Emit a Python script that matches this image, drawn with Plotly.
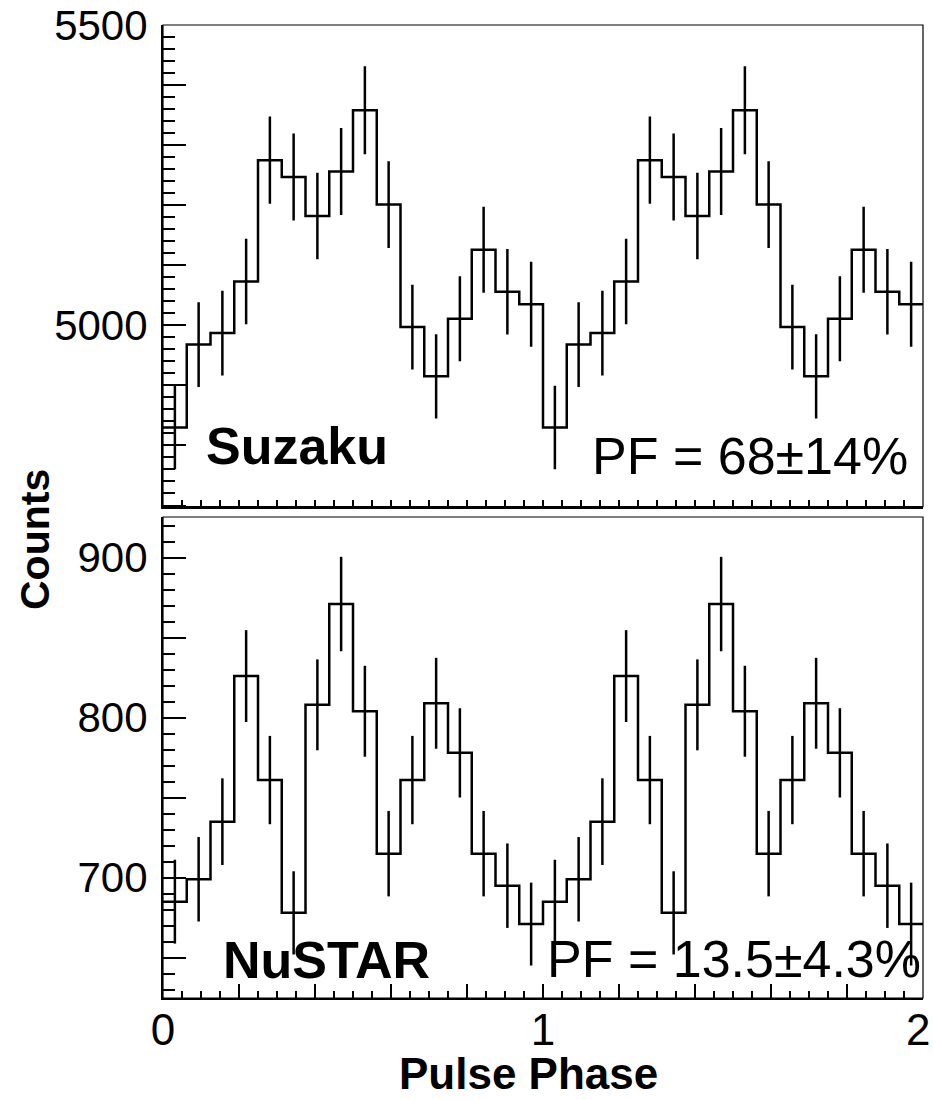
import plotly.graph_objects as go

# ---------------- data ----------------
suzaku_counts = [4830, 4968, 4987, 5073, 5275, 5247, 5182, 5256,
                 5358, 5201, 4997, 4915, 5011, 5126, 5056, 5035,
                 4830, 4968, 4987, 5073, 5275, 5247, 5182, 5256,
                 5358, 5201, 4997, 4915, 5011, 5126, 5056, 5035]
suzaku_err = [69.5, 70.5, 70.6, 71.2, 72.6, 72.4, 72.0, 72.5,
              73.2, 72.1, 70.7, 70.1, 70.8, 71.6, 71.1, 70.9,
              69.5, 70.5, 70.6, 71.2, 72.6, 72.4, 72.0, 72.5,
              73.2, 72.1, 70.7, 70.1, 70.8, 71.6, 71.1, 70.9]
nustar_counts = [685, 699, 735, 826, 761, 678, 808, 871,
                 804, 715, 761, 809, 778, 715, 695, 671,
                 685, 699, 735, 826, 761, 678, 808, 871,
                 804, 715, 761, 809, 778, 715, 695, 671]
nustar_err = [26.2, 26.4, 27.1, 28.7, 27.6, 26.0, 28.4, 29.5,
              28.4, 26.7, 27.6, 28.4, 27.9, 26.7, 26.4, 25.9,
              26.2, 26.4, 27.1, 28.7, 27.6, 26.0, 28.4, 29.5,
              28.4, 26.7, 27.6, 28.4, 27.9, 26.7, 26.4, 25.9]
phase_min, phase_max = 0.0, 2.0
x_tick_labels = ["0", "1", "2"]
suzaku_tick_labels = ["5000", "5500"]
nustar_tick_labels = ["700", "800", "900"]
suzaku_label = "Suzaku"
nustar_label = "NuSTAR"
suzaku_pf = "PF = 68±14%"
nustar_pf = "PF = 13.5±4.3%"

# ---------------- derived bin geometry ----------------
n_bins = len(suzaku_counts)
bw = (phase_max - phase_min) / n_bins
edges = [phase_min + i * bw for i in range(n_bins + 1)]
centers = [phase_min + (i + 0.5) * bw for i in range(n_bins)]

W, H = 933, 1099
ML, MR, MT, MB = 163, 10, 25, 101
PH = H - MT - MB
PW = W - ML - MR


def py(ypix):
    return (H - MB - ypix) / PH


def px(xpix):
    return (xpix - ML) / PW


FONT = "Liberation Sans, Arial, Helvetica, sans-serif"
LW = 2.5

fig = go.Figure()


def add_hist(counts, errs, xa, ya):
    fig.add_trace(go.Scatter(
        x=edges, y=list(counts) + [counts[-1]], mode="lines",
        line=dict(shape="hv", color="black", width=LW),
        xaxis=xa, yaxis=ya, showlegend=False, hoverinfo="skip"))
    fig.add_trace(go.Scatter(
        x=centers, y=counts, mode="markers",
        marker=dict(size=1, color="rgba(0,0,0,0)"),
        error_y=dict(type="data", array=errs, visible=True,
                     color="black", thickness=LW, width=0),
        xaxis=xa, yaxis=ya, showlegend=False, hoverinfo="skip"))


add_hist(suzaku_counts, suzaku_err, "x2", "y2")
add_hist(nustar_counts, nustar_err, "x", "y")

top_dom = [py(506.7), 1.0]
bot_dom = [0.0, py(517)]

x_major = [round(0.2 * i, 1) for i in range(11)]
x_text_full = []
edge_label = None
for v in x_major:
    s = "%g" % v
    if s in x_tick_labels and v < phase_max:
        x_text_full.append(s)
    else:
        x_text_full.append("")
        if s in x_tick_labels:
            edge_label = s   # drawn as a right-anchored text so it stays on the page

common_x = dict(range=[phase_min, phase_max], showgrid=False, zeroline=False,
                showline=True, linecolor="black", linewidth=2,
                automargin=False,
                ticks="inside", ticklen=14, tickwidth=1.5, tickcolor="black",
                tickmode="array", tickvals=x_major,
                minor=dict(ticks="inside", ticklen=7, tickwidth=1.5,
                           tickcolor="black", dtick=0.05, tick0=0,
                           showgrid=False),
                ticklabeloverflow="allow",
                tickfont=dict(family=FONT, size=44, color="black"))

s_major = [4700 + 100 * i for i in range(9)]
s_text = [str(v) if str(v) in suzaku_tick_labels else "" for v in s_major]
n_major = [650 + 50 * i for i in range(6)]
n_text = [str(v) if str(v) in nustar_tick_labels else "" for v in n_major]

common_y = dict(showgrid=False, zeroline=False, showline=True,
                linecolor="black", linewidth=2, automargin=False,
                ticks="inside", ticklen=23, tickwidth=1.5, tickcolor="black",
                tickmode="array", ticklabelstandoff=5,
                ticklabeloverflow="allow",
                tickfont=dict(family=FONT, size=42, color="black"))

fig.update_layout(
    width=W, height=H,
    margin=dict(l=ML, r=MR, t=MT, b=MB, autoexpand=False),
    paper_bgcolor="white", plot_bgcolor="white",
    showlegend=False,
    xaxis=dict(**common_x, domain=[0, 1], anchor="y",
               ticktext=x_text_full, showticklabels=True,
               ticklabelstandoff=-8),
    xaxis2=dict(**common_x, domain=[0, 1], anchor="y2",
                ticktext=["" for _ in x_major], showticklabels=False,
                matches="x"),
    yaxis=dict(**common_y, domain=bot_dom, anchor="x",
               range=[624.8, 925.4], tickvals=n_major, ticktext=n_text,
               minor=dict(ticks="inside", ticklen=12, tickwidth=1.5,
                          tickcolor="black", dtick=10, tick0=630,
                          showgrid=False)),
    yaxis2=dict(**common_y, domain=top_dom, anchor="x2",
                range=[4698, 5500], tickvals=s_major, ticktext=s_text,
                minor=dict(ticks="inside", ticklen=12, tickwidth=1.5,
                           tickcolor="black", dtick=20, tick0=4700,
                           showgrid=False)),
)

# thin frame boxes (top / right edges)
for xr, yr in (("x domain", "y domain"), ("x2 domain", "y2 domain")):
    fig.add_shape(type="rect", xref=xr, yref=yr, x0=0, x1=1, y0=0, y1=1,
                  line=dict(color="black", width=1.2), fillcolor="rgba(0,0,0,0)")

ann = []
ann.append(dict(text=suzaku_label, x=px(205), y=py(446), xanchor="left",
                yanchor="middle", font=dict(family=FONT, size=52, color="black",
                                            weight="bold")))
ann.append(dict(text=suzaku_pf, x=px(909), y=py(456), xanchor="right",
                yanchor="middle", font=dict(family=FONT, size=52, color="black")))
ann.append(dict(text=nustar_label, x=px(222), y=py(960), xanchor="left",
                yanchor="middle", font=dict(family=FONT, size=52, color="black",
                                            weight="bold")))
ann.append(dict(text=nustar_pf, x=px(922), y=py(959), xanchor="right",
                yanchor="middle", font=dict(family=FONT, size=52, color="black")))
ann.append(dict(text="Counts", x=px(35), y=py(540), xanchor="center",
                yanchor="middle", textangle=-90,
                font=dict(family=FONT, size=41, color="black", weight="bold")))
ann.append(dict(text="Pulse Phase", x=px(528), y=py(1073), xanchor="center",
                yanchor="middle",
                font=dict(family=FONT, size=44, color="black", weight="bold")))
if edge_label is not None:
    ann.append(dict(text=edge_label, x=px(931), y=py(1029), xanchor="right",
                    yanchor="middle",
                    font=dict(family=FONT, size=44, color="black")))
for a in ann:
    a.update(xref="paper", yref="paper", showarrow=False, borderpad=0)
fig.update_layout(annotations=ann)

fig.write_html("out.html")
